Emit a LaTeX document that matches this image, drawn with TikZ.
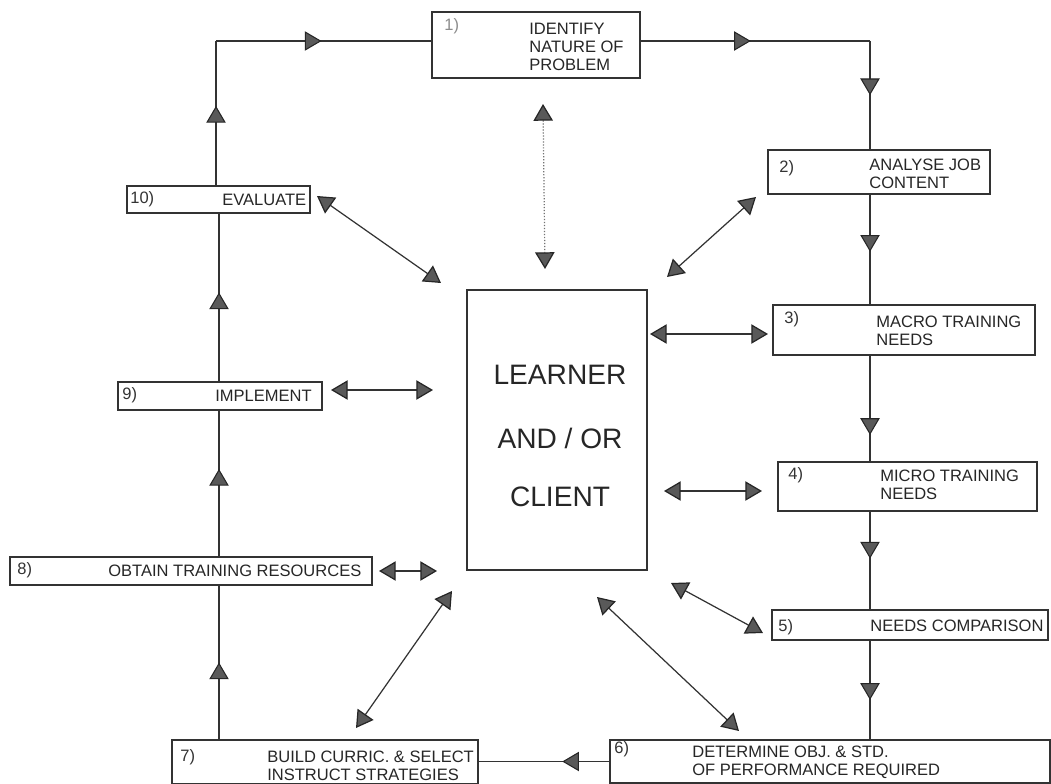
\documentclass[tikz,border=0pt]{standalone}
\usepackage{fontspec}
\setmainfont{Liberation Sans}
\usetikzlibrary{arrows.meta,fit,decorations.markings}

\tikzset{
  >={Triangle[length=9.5pt,width=11pt,fill=black!65,color=black!85]},
  box/.style={draw=black!80, line width=0.8pt, inner sep=0pt, fill=none},
  txt/.style={font=\fontsize{9.4}{10.2}\selectfont, text=black!85, inner sep=0pt, anchor=west, align=left},
  num/.style={font=\fontsize{9.4}{10.2}\selectfont, text=black!80, inner sep=0pt, anchor=west},
  flow/.style={draw=black!80, line width=0.7pt},
  midarrow/.style={postaction={decorate, decoration={markings,
      mark=at position #1 with {\arrow[line width=0.6pt]{>}}}}},
  midarrow/.default=0.5,
  link/.style={draw=black!80, line width=0.7pt, <->},
}

\begin{document}
\begin{tikzpicture}[x=0.02cm, y=-0.02cm]
  \useasboundingbox (0,0) rectangle (1051,784);

  % process boxes
  \node[box, fit={(432,12) (640,78)}] (b1) {};
  \node[box, fit={(768,150) (990,194)}] (b2) {};
  \node[box, fit={(773,305) (1035,355)}] (b3) {};
  \node[box, fit={(778,462) (1037,511)}] (b4) {};
  \node[box, fit={(772,610) (1048,640)}] (b5) {};
  \node[box, fit={(610,740) (1050,783)}] (b6) {};
  \node[box, fit={(172,740) (478,784)}] (b7) {};
  \node[box, fit={(10,557) (372,585)}] (b8) {};
  \node[box, fit={(118,382) (322,410)}] (b9) {};
  \node[box, fit={(127,186) (310,213)}] (b10) {};
  \node[box, fit={(467,290) (647,570)}] (L) {};

  % box texts
  \node[num, text=black!45] (n1) at (444,26) {1)};
  \node[txt] (t1) at (529,47) {IDENTIFY\\NATURE OF\\PROBLEM};
  \node[num] (n2) at (779,168) {2)};
  \node[txt] (t2) at (869,174) {ANALYSE JOB\\CONTENT};
  \node[num] (n3) at (784,319) {3)};
  \node[txt] (t3) at (876,331) {MACRO TRAINING\\NEEDS};
  \node[num] (n4) at (788,475) {4)};
  \node[txt] (t4) at (880,485) {MICRO TRAINING\\NEEDS};
  \node[num] (n5) at (778,627) {5)};
  \node[txt] (t5) at (870,626) {NEEDS COMPARISON};
  \node[num] (n6) at (614,749) {6)};
  \node[txt] (t6) at (692,762) {DETERMINE OBJ. \& STD.\\OF PERFORMANCE REQUIRED};
  \node[num] (n7) at (180,757) {7)};
  \node[txt] (t7) at (267,766) {BUILD CURRIC. \& SELECT\\INSTRUCT STRATEGIES};
  \node[num] (n8) at (17,570) {8)};
  \node[txt] (t8) at (108,571) {OBTAIN TRAINING RESOURCES};
  \node[num] (n9) at (122,395) {9)};
  \node[txt] (t9) at (215,396) {IMPLEMENT};
  \node[num] (n10) at (130,199) {10)};
  \node[txt] (t10) at (222,200) {EVALUATE};

  \node[font=\fontsize{16}{16}\selectfont, text=black!85, inner sep=0pt] (tl1) at (560,375) {LEARNER};
  \node[font=\fontsize{16}{16}\selectfont, text=black!85, inner sep=0pt] (tl2) at (560,438) {AND / OR};
  \node[font=\fontsize{16}{16}\selectfont, text=black!85, inner sep=0pt] (tl3) at (560,497) {CLIENT};

  % corners and columns of the main cycle
  \coordinate (cl) at (216,41);
  \coordinate (cr) at (870,41);
  \coordinate (colL) at (219,0);
  \coordinate (colR) at (870,0);

  % main cycle 1 -> 2 -> ... -> 10 -> 1
  \draw[flow, midarrow=0.48] (b1.east |- cr) -- (cr);
  \draw[flow, midarrow=0.5] (cr) -- (cr |- b2.north);
  \draw[flow, midarrow=0.52] (colR |- b2.south) -- (colR |- b3.north);
  \draw[flow, midarrow=0.75] (colR |- b3.south) -- (colR |- b4.north);
  \draw[flow, midarrow=0.48] (colR |- b4.south) -- (colR |- b5.north);
  \draw[flow, midarrow=0.6] (colR |- b5.south) -- (colR |- b6.north);
  \draw[flow, midarrow=0.36] (b6.west) -- (b7.east |- b6.west);
  \draw[flow, midarrow=0.5] (colL |- b7.north) -- (colL |- b8.south);
  \draw[flow, midarrow=0.6] (colL |- b8.north) -- (colL |- b9.south);
  \draw[flow, midarrow=0.53] (colL |- b9.north) -- (colL |- b10.south);
  \draw[flow, midarrow=0.55] (cl |- b10.north) -- (cl);
  \draw[flow, midarrow=0.49] (cl) -- (cl -| b1.west);

  % two-way links between each step and the learner
  \coordinate (a1) at (543,104);  \coordinate (z1) at (545,269);
  \coordinate (a2) at (756,197);  \coordinate (z2) at (667,277);
  \coordinate (a3) at (768,334);  \coordinate (z3) at (650,334);
  \coordinate (a4) at (762,491);  \coordinate (z4) at (664,491);
  \coordinate (a5) at (763,633);  \coordinate (z5) at (671,583);
  \coordinate (a6) at (739,731);  \coordinate (z6) at (597,597);
  \coordinate (a7) at (356,728);  \coordinate (z7) at (452,591);
  \coordinate (a8) at (379,571);  \coordinate (z8) at (437,571);
  \coordinate (a9) at (331,390);  \coordinate (z9) at (433,390);
  \coordinate (a10) at (317,196); \coordinate (z10) at (441,283);

  \draw[link, densely dotted, draw=black!55] (a1) -- (z1);
  \draw[link] (a2) -- (z2);
  \draw[link] (a3) -- (z3);
  \draw[link] (a4) -- (z4);
  \draw[link] (a5) -- (z5);
  \draw[link] (a6) -- (z6);
  \draw[link] (a7) -- (z7);
  \draw[link] (a8) -- (z8);
  \draw[link] (a9) -- (z9);
  \draw[link] (a10) -- (z10);
\end{tikzpicture}
\end{document}
